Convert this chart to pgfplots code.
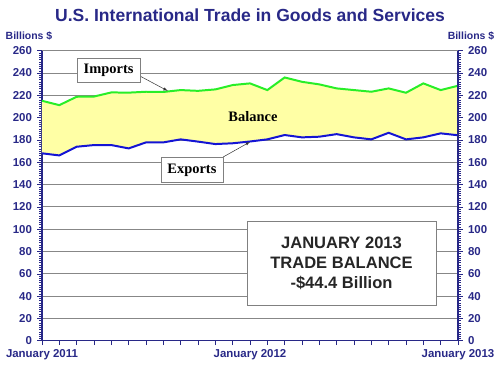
\documentclass[border=0pt]{standalone}
\usepackage{pgfplots}
\pgfplotsset{compat=1.18}
\usepackage{pgfplotstable}
\usepackage{fontspec}
\setmainfont{Liberation Sans}
\newfontfamily\serifb{Liberation Serif}
\definecolor{navy}{RGB}{40,40,135}
\definecolor{impgreen}{RGB}{40,238,40}
\definecolor{expblue}{RGB}{20,20,212}
\definecolor{balyellow}{RGB}{255,255,165}
\definecolor{gridgray}{RGB}{135,135,135}
\pgfplotstableread{
m exp imp
0 168.0 215.1
1 166.1 211.2
2 173.9 218.7
3 175.4 218.9
4 175.4 222.6
5 172.4 222.4
6 177.8 223.2
7 177.8 223.0
8 180.5 224.7
9 178.5 224.0
10 176.3 225.3
11 177.0 229.2
12 178.6 230.7
13 180.5 224.7
14 184.4 236.0
15 182.3 232.1
16 182.9 229.8
17 185.2 226.2
18 182.3 224.7
19 180.5 223.2
20 186.4 226.2
21 180.5 222.3
22 182.3 230.7
23 185.9 224.7
24 184.2 228.6
}\trade
\begin{document}
\begin{tikzpicture}
\begin{axis}[
  at={(0,0)}, anchor=south west,
  scale only axis, width=416bp, height=290bp,
  xmin=0, xmax=24, ymin=0, ymax=260,
  axis x line*=bottom, axis y line*=left,
  axis line style={navy, line width=1.4pt},
  xtick={0,...,24},
  xticklabels={January 2011,,,,,,,,,,,,January 2012,,,,,,,,,,,,January 2013},
  ytick={0,20,...,260},
  minor y tick num=9,
  tick align=outside,
  major tick length=4.5bp, minor tick length=2.5bp,
  x tick style={navy, line width=0.7pt},
  y tick style={navy, line width=0.5pt},
  ymajorgrids,
  grid style={gridgray, line width=0.8pt},
  tick label style={font=\fontsize{11.5}{12}\selectfont\bfseries, text=navy},
  /pgf/number format/assume math mode=true,
  yticklabel style={xshift=-2bp},
  xticklabel style={yshift=-1bp},
]
\addplot[draw=none, stack plots=y, forget plot] table[x=m, y=exp]{\trade};
\addplot[fill=balyellow, draw=none, stack plots=y, forget plot] table[x=m, y expr=\thisrow{imp}-\thisrow{exp}]{\trade} \closedcycle;
\addplot[impgreen, line width=2pt] table[x=m, y=imp]{\trade};
\addplot[expblue, line width=2pt] table[x=m, y=exp]{\trade};
\end{axis}
\begin{axis}[
  at={(0,0)}, anchor=south west,
  scale only axis, width=416bp, height=290bp,
  xmin=0, xmax=24, ymin=0, ymax=260,
  axis y line*=right, axis x line*=top,
  x axis line style={draw=none},
  xtick=\empty,
  axis line style={navy, line width=1.4pt},
  ytick={0,20,...,260},
  minor y tick num=9,
  tick align=outside,
  major tick length=4.5bp, minor tick length=2.5bp,
  y tick style={navy, line width=0.5pt},
  tick label style={font=\fontsize{11.5}{12}\selectfont\bfseries, text=navy},
  /pgf/number format/assume math mode=true,
  yticklabel style={xshift=2bp},
  clip=false,
]
\addplot[draw=none] table[x=m, y=imp]{\trade};
\draw[-latex, black!80, line width=0.5pt] (axis cs:5.65,237.3) -- (axis cs:7.25,224.0);
\draw[-latex, black!80, line width=0.5pt] (axis cs:10.45,164.7) -- (axis cs:12.0,178.2);
\node[draw=gray, fill=white, line width=0.7pt, minimum width=63bp, minimum height=24bp, inner sep=0pt,
  font=\serifb\fontsize{14.5}{15}\selectfont\bfseries] at (axis cs:3.84,242.7) {Imports};
\node[draw=gray, fill=white, line width=0.7pt, minimum width=62bp, minimum height=25bp, inner sep=0pt,
  font=\serifb\fontsize{14.5}{15}\selectfont\bfseries] at (axis cs:8.65,153.0) {Exports};
\node[font=\serifb\fontsize{14.5}{15}\selectfont\bfseries] at (axis cs:12.17,200.6) {Balance};
\node[draw=gray, fill=white, line width=0.8pt, minimum width=189bp, minimum height=84bp, inner sep=0pt,
  align=center, font=\fontsize{16.6}{20}\selectfont\bfseries, text=black!85] at (axis cs:17.28,69.6)
  {JANUARY 2013\\TRADE BALANCE\\-\$44.4 Billion};
\end{axis}
\node[font=\fontsize{17.6}{18}\selectfont\bfseries, text=navy] at (208bp,325.5bp)
  {U.S. International Trade in Goods and Services};
\node[font=\fontsize{10.5}{11}\selectfont\bfseries, text=navy] at (-13bp,304.5bp) {Billions \$};
\node[font=\fontsize{10.5}{11}\selectfont\bfseries, text=navy] at (429bp,304.5bp) {Billions \$};
\useasboundingbox (-42bp,-41.3bp) rectangle (458bp,340.7bp);
\end{tikzpicture}
\end{document}
